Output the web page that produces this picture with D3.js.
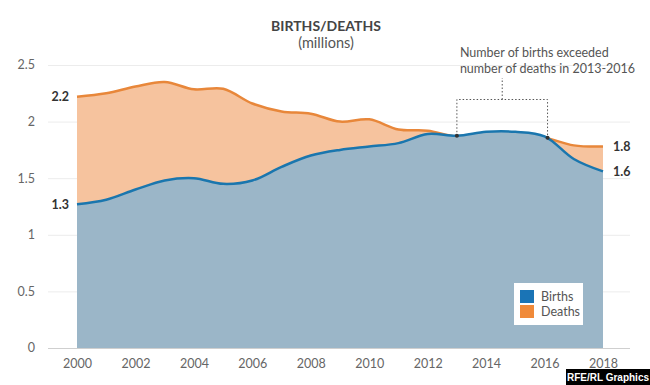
<!DOCTYPE html>
<html><head><meta charset="utf-8">
<script src="https://cdn.jsdelivr.net/npm/d3@7"></script>
<style>body{margin:0;background:#fff;} svg{display:block;font-family:Lato, "Noto Sans", sans-serif;}</style>
</head><body><svg id="c" width="650" height="385"></svg>
<script>
const years  = [2000,2001,2002,2003,2004,2005,2006,2007,2008,2009,2010,2011,2012,2013,2014,2015,2016,2017,2018];
const births = [1.27,1.31,1.40,1.48,1.50,1.45,1.48,1.60,1.70,1.75,1.78,1.81,1.89,1.875,1.91,1.91,1.87,1.67,1.56];
const deaths = [2.22,2.25,2.31,2.35,2.285,2.29,2.16,2.09,2.07,2.00,2.02,1.93,1.92,1.87,1.90,1.90,1.86,1.79,1.78];
const yTicks = [0,0.5,1,1.5,2,2.5];
const yTickLabels = ["0","0.5","1","1.5","2","2.5"];
const xTicks = [2000,2002,2004,2006,2008,2010,2012,2014,2016,2018];
const seriesNames = ["Births","Deaths"];
const startLabels = ["1.3","2.2"];
const endLabels = ["1.6","1.8"];
const annotationYears = [2013,2016];
const annotationText = ["Number of births exceeded","number of deaths in 2013-2016"];
const titleText = "BIRTHS/DEATHS";
const subtitleText = "(millions)";
const creditText = "RFE/RL Graphics";

const colors = {bLine:"#1a76ae", bFill:"#9bb6c8", dLine:"#e8873a", dFill:"#f6c39e",
  bKey:"#1a74b6", dKey:"#f08a3a"};

const svg = d3.select("#c");
const x = d3.scaleLinear().domain([2000,2018]).range([77,603]);
const y = d3.scaleLinear().domain([0,2.5]).range([348,65]);

// grid
const g = svg.append("g");
g.selectAll("line.grid").data(yTicks).join("line")
  .attr("x1",48).attr("x2",630)
  .attr("y1",d=>y(d)+0.5).attr("y2",d=>y(d)+0.5)
  .attr("stroke",d=>d===0?"#cfcfcf":"#ececec").attr("stroke-width",1);

// y labels
svg.append("g").selectAll("text").data(yTicks).join("text")
  .attr("x",35).attr("y",d=>y(d)).attr("dy","0.35em")
  .attr("text-anchor","end").attr("font-size",12.5).attr("fill","#666")
  .text((d,i)=>yTickLabels[i]);

// x axis labels via d3 axis
const xAxis = d3.axisBottom(x).tickValues(xTicks).tickFormat(d3.format("d")).tickSize(0).tickPadding(11);
const xa = svg.append("g").attr("transform",`translate(0,${y(0)})`).call(xAxis);
xa.select(".domain").remove();
xa.selectAll("text").attr("font-size",12.5).attr("fill","#666").attr("font-family","Lato, sans-serif");

const curve = d3.curveCatmullRom.alpha(0.5);
const dData = years.map((yr,i)=>({yr,v:deaths[i]}));
const bData = years.map((yr,i)=>({yr,v:births[i]}));
const area = d3.area().x(d=>x(d.yr)).y0(y(0)).y1(d=>y(d.v)).curve(curve);
const line = d3.line().x(d=>x(d.yr)).y(d=>y(d.v)).curve(curve);

svg.append("path").datum(dData).attr("d",area).attr("fill",colors.dFill);
svg.append("path").datum(dData).attr("d",line).attr("fill","none").attr("stroke",colors.dLine).attr("stroke-width",2.5);
svg.append("path").datum(bData).attr("d",area).attr("fill",colors.bFill);
svg.append("path").datum(bData).attr("d",line).attr("fill","none").attr("stroke",colors.bLine).attr("stroke-width",2.5);

// start / end value labels
const lab = svg.append("g").attr("font-size",12.5).attr("font-weight","bold").attr("fill","#333");
lab.append("text").attr("x",x(2000)-8).attr("y",y(births[0])).attr("dy","0.35em").attr("text-anchor","end").text(startLabels[0]);
lab.append("text").attr("x",x(2000)-8).attr("y",y(deaths[0])).attr("dy","0.35em").attr("text-anchor","end").text(startLabels[1]);
const last = years.length-1;
lab.append("text").attr("x",x(2018)+10).attr("y",y(births[last])).attr("dy","0.35em").text(endLabels[0]);
lab.append("text").attr("x",x(2018)+10).attr("y",y(deaths[last])).attr("dy","0.35em").text(endLabels[1]);

// annotation bracket
const ia = years.indexOf(annotationYears[0]), ib = years.indexOf(annotationYears[1]);
const xa1 = x(annotationYears[0]), xb1 = x(annotationYears[1])+3;
const ya1 = y(births[ia]), yb1 = y(births[ib]) + 1.5;
const topY = 99.5, midX = (xa1+xb1)/2;
svg.append("path")
  .attr("d",`M${xa1},${ya1} V${topY} H${xb1} V${yb1} M${midX},${topY} V78`)
  .attr("fill","none").attr("stroke","#555").attr("stroke-width",1).attr("stroke-dasharray","1.5,2");
svg.selectAll("circle.ann").data([[xa1,ya1],[xb1,yb1]]).join("circle")
  .attr("cx",d=>d[0]).attr("cy",d=>d[1]).attr("r",2).attr("fill","#333");
svg.append("g").selectAll("text").data(annotationText).join("text")
  .attr("x",xa1+3).attr("y",(d,i)=>57+i*16).attr("font-size",12.5).attr("fill","#555").text(d=>d);

// title
svg.append("text").attr("x",326).attr("y",31).attr("text-anchor","middle")
  .attr("font-size",14).attr("font-weight","bold").attr("fill","#444").text(titleText);
svg.append("text").attr("x",326).attr("y",48).attr("text-anchor","middle")
  .attr("font-size",14.5).attr("fill","#555").text(subtitleText);

// legend
const lg = svg.append("g").attr("transform","translate(514,283)");
lg.append("rect").attr("width",69).attr("height",42).attr("fill","#fff");
lg.selectAll("rect.k").data(seriesNames).join("rect").attr("class","k")
  .attr("x",6).attr("y",(d,i)=>7+i*15).attr("width",14).attr("height",13)
  .attr("fill",(d,i)=>i===0?colors.bKey:colors.dKey);
lg.selectAll("text").data(seriesNames).join("text")
  .attr("x",27).attr("y",(d,i)=>18+i*15).attr("font-size",12.5).attr("fill","#555").text(d=>d);

// credit
svg.append("rect").attr("x",566).attr("y",369).attr("width",84).attr("height",16).attr("fill","#000");
svg.append("text").attr("x",608).attr("y",381).attr("text-anchor","middle")
  .attr("font-family","'Liberation Sans', Arial, sans-serif").attr("font-weight","bold")
  .attr("font-size",10).attr("fill","#fff").text(creditText);
</script></body></html>
